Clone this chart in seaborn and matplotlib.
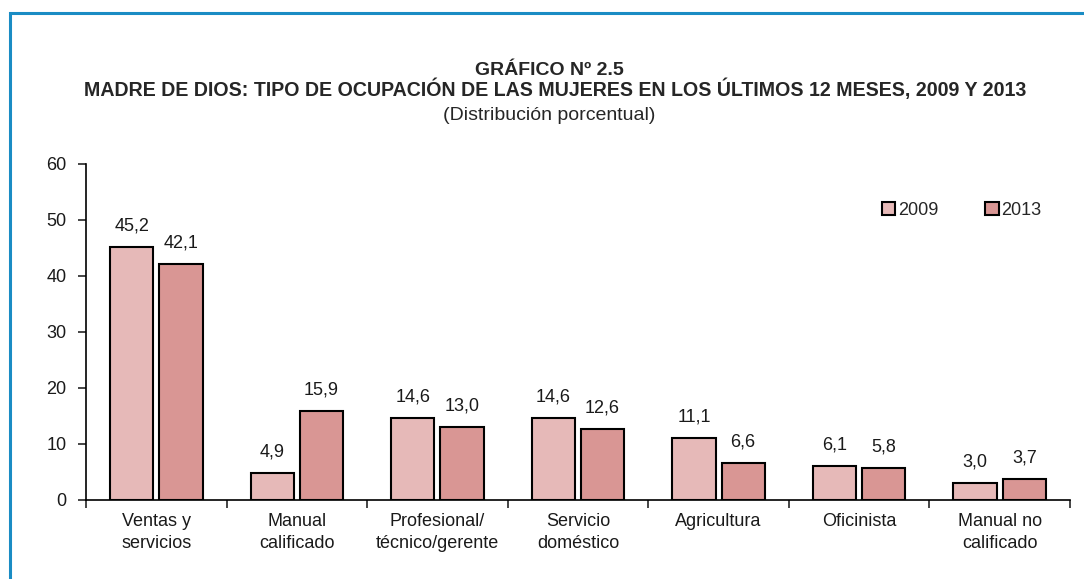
import numpy as np
import pandas as pd
import matplotlib
matplotlib.use("Agg")
import matplotlib.pyplot as plt
import seaborn as sns
from matplotlib.patches import Rectangle

# ── Data ──────────────────────────────────────────────────────────────────────
CATEGORIES = ["Ventas y\nservicios", "Manual\ncalificado", "Profesional/\ntécnico/gerente",
              "Servicio\ndoméstico", "Agricultura", "Oficinista", "Manual no\ncalificado"]
VALUES_2009 = [45.2, 4.9, 14.6, 14.6, 11.1, 6.1, 3.0]
VALUES_2013 = [42.1, 15.9, 13.0, 12.6, 6.6, 5.8, 3.7]
YEARS = ["2009", "2013"]
COLORS = ["#e6b9b8", "#d99694"]

FONT = ["Liberation Sans Narrow", "Liberation Sans", "DejaVu Sans"]


def main():
    df = pd.DataFrame({
        "cat": CATEGORIES * 2,
        "year": [YEARS[0]] * len(CATEGORIES) + [YEARS[1]] * len(CATEGORIES),
        "val": VALUES_2009 + VALUES_2013,
    })

    sns.set_style("white")
    plt.rcParams["font.family"] = FONT

    fig = plt.figure(figsize=(10.84, 5.79), dpi=100)
    ax = fig.add_axes([86 / 1084, 1 - 500 / 579, 984 / 1084, 336 / 579])

    sns.barplot(data=df, x="cat", y="val", hue="year", order=CATEGORIES,
                palette=COLORS, saturation=1, edgecolor="black", linewidth=1.5,
                width=0.7, gap=0.12, ax=ax, legend=True)

    for cont in ax.containers:
        ax.bar_label(cont, labels=[f"{v:.1f}".replace(".", ",") for v in cont.datavalues],
                     padding=9, fontsize=13, color="#1a1a1a")

    # axes
    ax.set_ylim(0, 60)
    ax.set_yticks(range(0, 61, 10))
    ax.set_xlim(-0.5, len(CATEGORIES) - 0.5)
    ax.set_xticks(np.arange(-0.5, len(CATEGORIES), 1.0))
    ax.set_xticklabels([])
    ax.set_xticks(range(len(CATEGORIES)), minor=True)
    ax.set_xticklabels(CATEGORIES, minor=True, fontsize=13, linespacing=1.45,
                       color="#1a1a1a")
    ax.tick_params(axis="x", which="major", length=6, width=1.2, direction="out", bottom=True)
    ax.tick_params(axis="x", which="minor", length=0, pad=9)
    ax.tick_params(axis="y", length=6, width=1.2, direction="out", left=True, labelsize=13,
                   pad=8, labelcolor="#1a1a1a")
    ax.set_xlabel("")
    ax.set_ylabel("")
    for s in ["top", "right"]:
        ax.spines[s].set_visible(False)
    for s in ["left", "bottom"]:
        ax.spines[s].set_color("black")
        ax.spines[s].set_linewidth(1.2)

    # legend
    ax.legend(loc="center left", bbox_to_anchor=(0.792, 0.863), ncol=2,
              frameon=False, fontsize=13, handlelength=0.75, handleheight=0.75,
              handletextpad=0.15, columnspacing=2.6)

    # titles
    fig.text(0.507, 1 - 70 / 579, "GRÁFICO Nº 2.5", ha="center", va="center",
             fontsize=14, fontweight="bold")
    fig.text(0.512, 1 - 89 / 579,
             "MADRE DE DIOS: TIPO DE OCUPACIÓN DE LAS MUJERES EN LOS ÚLTIMOS 12 MESES, 2009 Y 2013",
             ha="center", va="center", fontsize=14.1, fontweight="bold")
    fig.text(0.507, 1 - 115 / 579, "(Distribución porcentual)", ha="center", va="center",
             fontsize=14)

    # blue frame
    fig.add_artist(Rectangle((9.5 / 1084, -0.1), 2, 1 - 13 / 579 + 0.1,
                             transform=fig.transFigure, fill=False,
                             edgecolor="#1a8cc4", linewidth=2.2))

    fig.savefig("out.png", dpi=100)
    plt.close(fig)


if __name__ == "__main__":
    main()
